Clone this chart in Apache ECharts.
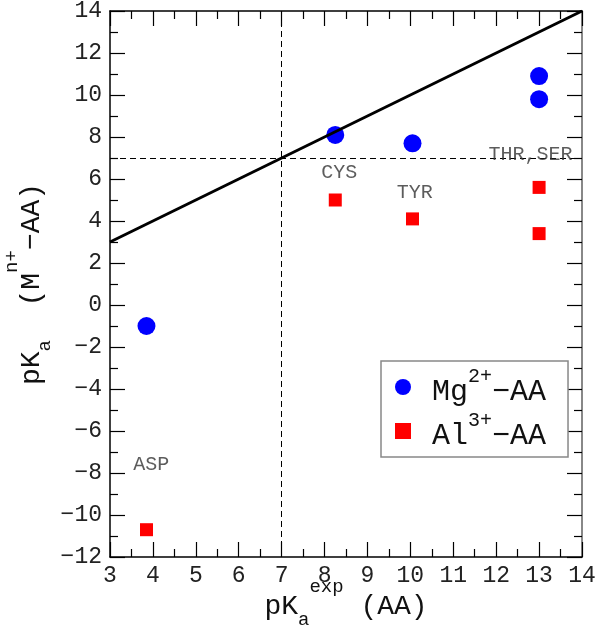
<!DOCTYPE html>
<html><head><meta charset="utf-8">
<script src="https://cdn.jsdelivr.net/npm/echarts@6/dist/echarts.min.js"></script>
<style>html,body{margin:0;padding:0;background:#fff}#c{width:601px;height:637px}</style>
</head><body><div id="c"></div>
<script>
// Data
var mgX = [3.85, 8.25, 10.05, 13.0, 13.0];
var mgY = [-1.0, 8.1, 7.7, 10.9, 9.8];
var alX = [3.85, 8.25, 10.05, 13.0, 13.0];
var alY = [-10.7, 5.0, 4.1, 5.6, 3.4];
var fitX = [3, 14];
var fitY = [3, 14];
var refX = 7;
var refY = 7;
var annoText = ['ASP', 'CYS', 'TYR', 'THR,SER'];
var annoX = [3.96, 8.34, 10.1, 12.8];
var annoY = [-7.6, 6.3, 5.33, 7.14];
var xTicks = [3, 14, 1];
var yTicks = [-12, 14, 2];

function zip(a, b) { return a.map(function (v, i) { return [v, b[i]]; }); }
var FONT = '"Courier New", Courier, "Nimbus Mono PS", "Nimbus Mono L", FreeMono, "Liberation Mono", monospace';
function minus(v) { return String(v).replace('-', '\u2212'); }

var chart = echarts.init(document.getElementById('c'), null, {renderer: 'canvas'});
var tickStyle = {color: '#000', width: 1.2};
var baseX = {
  type: 'value', min: xTicks[0], max: xTicks[1], interval: xTicks[2],
  splitLine: {show: false},
  axisLine: {show: true, onZero: false, lineStyle: {color: '#000', width: 1.5}},
  axisTick: {show: true, inside: true, length: 15, lineStyle: tickStyle},
  minorTick: {show: true, splitNumber: 2, length: 8, lineStyle: tickStyle}
};
var baseY = {
  type: 'value', min: yTicks[0], max: yTicks[1], interval: yTicks[2],
  splitLine: {show: false},
  axisLine: {show: true, onZero: false, lineStyle: {color: '#000', width: 1.5}},
  axisTick: {show: true, inside: true, length: 15, lineStyle: tickStyle},
  minorTick: {show: true, splitNumber: 2, length: 8, lineStyle: tickStyle}
};
var titleRich = {
  m: {fontFamily: FONT, fontSize: 28, color: '#111', verticalAlign: 'bottom', lineHeight: 44},
  sub: {fontFamily: FONT, fontSize: 19, color: '#111', verticalAlign: 'bottom', lineHeight: 38, padding: [0, 0, -8, 0]},
  sup: {fontFamily: FONT, fontSize: 19, color: '#111', verticalAlign: 'top', lineHeight: 44}
};

var option = {
  animation: false,
  backgroundColor: '#fff',
  grid: {left: 110, right: 19, top: 11, bottom: 80, containLabel: false, outerBoundsMode: 'none'},
  xAxis: [
    Object.assign({}, baseX, {
      position: 'bottom',
      axisLabel: {show: true, margin: 7, fontFamily: FONT, fontSize: 23, color: '#222', formatter: minus},
      name: '{m|pK}{sub|a}{sup|exp}{m| (AA)}',
      nameLocation: 'middle', nameGap: 20, nameMoveOverlap: false,
      nameTextStyle: {fontFamily: FONT, color: '#111', rich: titleRich}
    }),
    Object.assign({}, baseX, {position: 'top', axisLabel: {show: false}})
  ],
  yAxis: [
    Object.assign({}, baseY, {
      position: 'left',
      axisLabel: {show: true, margin: 8, fontFamily: FONT, fontSize: 23, color: '#222', formatter: minus},
      name: '{m|pK}{sub|a}{m|  (M}{sup|n+}{m|\u2212AA)}',
      nameLocation: 'middle', nameGap: 64, nameRotate: 90, nameMoveOverlap: false,
      nameTextStyle: {fontFamily: FONT, color: '#111', rich: titleRich}
    }),
    Object.assign({}, baseY, {position: 'right', axisLabel: {show: false},
      axisLine: {show: true, onZero: false, lineStyle: {color: '#888', width: 2}}})
  ],
  legend: {
    orient: 'vertical', left: 381, top: 361,
    backgroundColor: '#fff', borderColor: '#888', borderWidth: 1.5,
    padding: [6, 22, 6, 14], itemGap: 4,
    itemWidth: 16, itemHeight: 16,
    data: [{name: 'Mg', icon: 'circle'}, {name: 'Al', icon: 'rect'}],
    formatter: function (n) {
      return n === 'Mg' ? '{m|Mg}{s|2+}{m|\u2212AA}' : '{m|Al}{s|3+}{m|\u2212AA}';
    },
    textStyle: {
      rich: {
        m: {fontFamily: FONT, fontSize: 30, color: '#111', verticalAlign: 'bottom', lineHeight: 40},
        s: {fontFamily: FONT, fontSize: 20, color: '#111', verticalAlign: 'top', lineHeight: 40}
      },
      padding: [0, 0, 0, 16]
    }
  },
  series: [
    {
      type: 'line', name: 'fit', data: zip(fitX, fitY), showSymbol: false, symbol: 'none',
      lineStyle: {color: '#000', width: 3}, z: 5, silent: true,
      markLine: {
        silent: true, symbol: 'none', label: {show: false},
        lineStyle: {color: '#000', width: 1, type: [6, 4]},
        data: [{xAxis: refX}, {yAxis: refY}]
      }
    },
    {
      type: 'scatter', name: 'Mg', data: zip(mgX, mgY), symbol: 'circle', symbolSize: 18,
      itemStyle: {color: '#0000ff', opacity: 1}, z: 3
    },
    {
      type: 'scatter', name: 'Al', data: zip(alX, alY), symbol: 'rect', symbolSize: 13,
      itemStyle: {color: '#ff0000', opacity: 1}, z: 3
    },
    {
      type: 'scatter', name: 'labels', symbolSize: 0, silent: true, z: 6,
      data: annoText.map(function (t, i) { return {name: t, value: [annoX[i], annoY[i]]}; }),
      label: {show: true, position: 'inside', formatter: '{b}', fontFamily: FONT, fontSize: 20, color: '#333'}
    }
  ]
};
chart.setOption(option);
</script>
</body></html>
